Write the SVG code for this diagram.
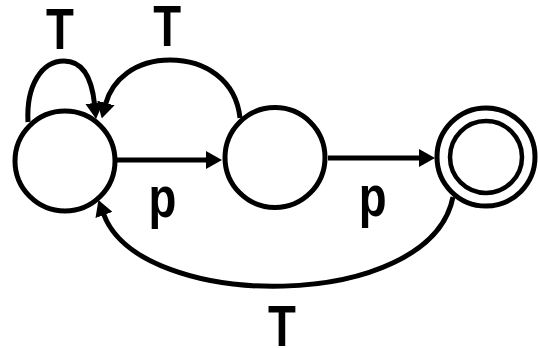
<svg xmlns="http://www.w3.org/2000/svg" width="538" height="348" viewBox="0 0 538 348">
  <style>
    .state { fill: #ffffff; stroke: #000000; stroke-width: 5; }
    .inner { fill: none; stroke: #000000; stroke-width: 4.5; }
    .edge { fill: none; stroke: #000000; stroke-width: 5; marker-end: url(#arrow); }
    .lbl { font-family: "Liberation Sans", Arial, sans-serif; font-weight: bold; font-size: 57px; fill: #000000; text-anchor: middle; }
  </style>
  <defs>
    <marker id="arrow" markerUnits="userSpaceOnUse" viewBox="0 0 16 18" markerWidth="16" markerHeight="18" refX="1" refY="9" orient="auto">
      <path d="M0,0 L16,9 L0,18 Z" fill="#000000"/>
    </marker>
  </defs>

  <g id="connectors">
    <path class="edge" d="M 117 160 H 207"/>
    <path class="edge" d="M 328 158 H 420"/>
    <path class="edge" d="M 28 122 C 26 85, 42 61, 64 61 C 84 61, 92 80, 94.5 104"/>
    <path class="edge" d="M 240 118 C 236 80, 205 60, 170 60 C 135 60, 112 80, 105.6 104"/>
    <path class="edge" d="M 453 197 C 430 313, 140 313, 103.6 214"/>
  </g>

  <g id="s0">
    <circle class="state" cx="65" cy="161" r="50"/>
  </g>
  <g id="s1">
    <circle class="state" cx="275" cy="157.5" r="50"/>
  </g>
  <g id="s2">
    <circle class="state" cx="486" cy="157" r="49"/>
    <circle class="inner" cx="486" cy="157" r="36"/>
  </g>

  <g id="labels">
    <text class="lbl" transform="scale(0.8,1)" x="75" y="49">T</text>
    <text class="lbl" transform="scale(0.8,1)" x="209" y="46">T</text>
    <text class="lbl" transform="scale(0.8,1)" x="203" y="217">p</text>
    <text class="lbl" transform="scale(0.8,1)" x="466" y="216">p</text>
    <text class="lbl" transform="scale(0.8,1)" x="352.5" y="346">T</text>
  </g>
</svg>
